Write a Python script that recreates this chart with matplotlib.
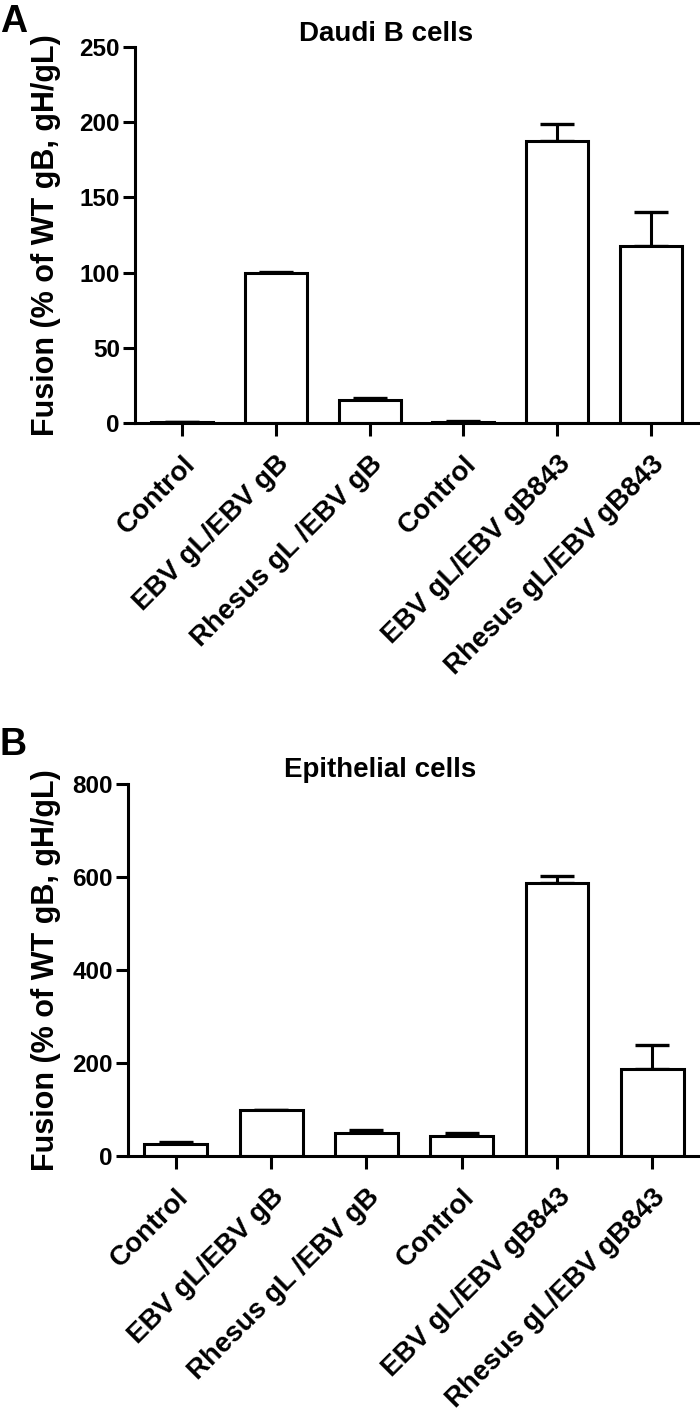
import numpy as np
import matplotlib
matplotlib.use('Agg')
import matplotlib.pyplot as plt

plt.rcParams['font.family'] = ['Liberation Sans', 'DejaVu Sans']
plt.rcParams['font.weight'] = 'bold'

# groups on the x axis (same for both panels)
labels = ['Control', 'EBV gL/EBV gB', 'Rhesus gL /EBV gB',
          'Control', 'EBV gL/EBV gB843', 'Rhesus gL/EBV gB843']

# A: Daudi B cells
daudi_mean = [0.5, 100, 15.5, 0.9, 187.5, 117.5]
daudi_err = [0.0, 0.5, 1.0, 0.3, 11.0, 23.0]

# B: epithelial cells
epi_mean = [27, 99, 50, 43, 588, 188]
epi_err = [3, 0.5, 7, 6, 14, 50]

fig = plt.figure(figsize=(7, 14.1), dpi=100)
ax1 = fig.add_axes([0.193, 0.700, 0.804, 0.2667])
ax2 = fig.add_axes([0.183, 0.180, 0.817, 0.264])


def draw(ax, mean, err, ymax, step, title, title_x, title_pad):
    x = np.arange(len(mean))
    ax.bar(x, mean, width=0.66, color='white', edgecolor='black', linewidth=2.2, zorder=2)
    ax.errorbar(x, mean, yerr=[np.zeros(len(err)), err], fmt='none', ecolor='black',
                elinewidth=2.2, capsize=12, capthick=2.4, zorder=1)
    ax.set_xlim(-0.5, 5.5)
    ax.set_ylim(0, ymax)
    ax.set_yticks(np.arange(0, ymax + 1, step))
    ax.set_xticks(x)
    ax.set_xticklabels(labels, rotation=45, ha='right', rotation_mode='anchor',
                       fontsize=20, fontweight='bold')
    for t in ax.get_yticklabels():
        t.set_fontsize(17.5)
        t.set_fontweight('bold')
    for s in ['top', 'right']:
        ax.spines[s].set_visible(False)
    for s in ['left', 'bottom']:
        ax.spines[s].set_linewidth(2.2)
    ax.tick_params(axis='both', width=2.2, length=9, pad=2)
    ax.tick_params(axis='x', length=9, pad=11)
    ax.set_title(title, fontsize=20, fontweight='bold', x=title_x, pad=title_pad)


draw(ax1, daudi_mean, daudi_err, 250, 50, 'Daudi B cells', 0.446, 3)
draw(ax2, epi_mean, epi_err, 800, 200, 'Epithelial cells', 0.44, 5)

ylab = 'Fusion (% of WT gB, gH/gL)'
fig.text(31 / 700, 1 - 235 / 1410, ylab, rotation=90, ha='left', va='center',
         fontsize=22, fontweight='bold')
fig.text(31 / 700, 1 - 970 / 1410, ylab, rotation=90, ha='left', va='center',
         fontsize=22, fontweight='bold')

fig.text(0.0, 1 - 4 / 1410, 'A', fontsize=27, fontweight='bold', va='top', ha='left')
fig.text(0.0, 1 - 727 / 1410, 'B', fontsize=27, fontweight='bold', va='top', ha='left')

fig.savefig('out.png', dpi=100)
